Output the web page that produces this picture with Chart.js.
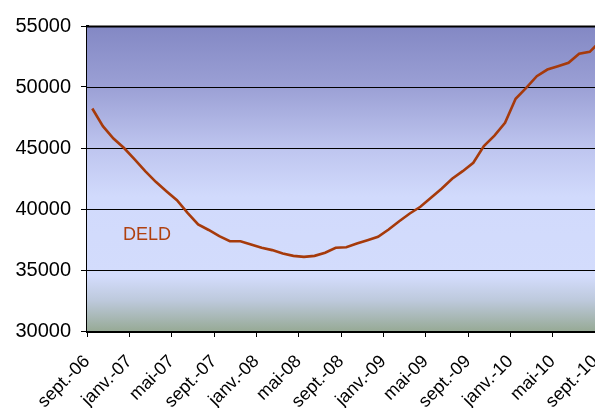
<!DOCTYPE html>
<html>
<head>
<meta charset="utf-8">
<script src="https://cdn.jsdelivr.net/npm/chart.js@4/dist/chart.umd.min.js"></script>
<style>
  html, body { margin: 0; padding: 0; background: #fff; overflow: hidden; }
  #wrap { width: 595px; height: 408px; }
</style>
</head>
<body>
<div id="wrap"><canvas id="chart" width="595" height="408"></canvas></div>
<script>
const months = [
  "sept.-06", "oct.-06", "nov.-06", "déc.-06",
  "janv.-07", "févr.-07", "mars-07", "avr.-07",
  "mai-07", "juin-07", "juil.-07", "août-07",
  "sept.-07", "oct.-07", "nov.-07", "déc.-07",
  "janv.-08", "févr.-08", "mars-08", "avr.-08",
  "mai-08", "juin-08", "juil.-08", "août-08",
  "sept.-08", "oct.-08", "nov.-08", "déc.-08",
  "janv.-09", "févr.-09", "mars-09", "avr.-09",
  "mai-09", "juin-09", "juil.-09", "août-09",
  "sept.-09", "oct.-09", "nov.-09", "déc.-09",
  "janv.-10", "févr.-10", "mars-10", "avr.-10",
  "mai-10", "juin-10", "juil.-10", "août-10",
  "sept.-10"
];
const deld = [
  48240, 46790, 45780, 45000, 44060, 43100, 42230, 41460,
  40720, 39690, 38730, 38280, 37770, 37360, 37360, 37090,
  36820, 36630, 36350, 36160, 36080, 36160, 36410, 36820,
  36870, 37170, 37440, 37720, 38320, 39000, 39630, 40180,
  40920, 41660, 42480, 43100, 43790, 45150, 46020, 47070,
  49030, 49930, 50890, 51430, 51700, 51980, 52720, 52880,
  53730
];
const yTicks = [30000, 35000, 40000, 45000, 50000, 55000];
const labelEvery = 4;
const seriesName = "DELD";

const points = deld.map((v, i) => ({ x: i, y: v }));

const plotBackground = {
  id: "plotBackground",
  beforeDatasetsDraw(chart) {
    const { ctx, chartArea: a } = chart;
    const g = ctx.createLinearGradient(0, a.top, 0, a.bottom);
    g.addColorStop(0, "#8388c4");
    g.addColorStop(0.2, "#9ba0d5");
    g.addColorStop(0.4, "#bec5ef");
    g.addColorStop(0.56, "#d1dafc");
    g.addColorStop(0.82, "#d3dcfc");
    g.addColorStop(0.9, "#bdc9dc");
    g.addColorStop(1, "#97aa96");
    ctx.save();
    ctx.fillStyle = g;
    ctx.fillRect(a.left, a.top, a.right - a.left, a.bottom - a.top);
    // grid lines over the fill
    const y = chart.scales.y;
    ctx.strokeStyle = "#000";
    yTicks.forEach(t => {
      const py = Math.round(y.getPixelForValue(t)) + 0.5;
      ctx.lineWidth = t === 55000 ? 2 : 1;
      ctx.beginPath();
      ctx.moveTo(a.left, py);
      ctx.lineTo(a.right, py);
      ctx.stroke();
    });
    ctx.restore();
  },
  afterDatasetsDraw(chart) {
    const { ctx, scales } = chart;
    ctx.save();
    ctx.fillStyle = "#b0400f";
    ctx.font = "18px 'Liberation Sans', Arial, sans-serif";
    ctx.textBaseline = "alphabetic";
    ctx.fillText(seriesName, scales.x.getPixelForValue(2.9), scales.y.getPixelForValue(37500));
    ctx.restore();
  }
};

new Chart(document.getElementById("chart"), {
  type: "line",
  data: {
    datasets: [{
      label: seriesName,
      data: points,
      borderColor: "#a63a0b",
      borderWidth: 2.6,
      pointRadius: 0,
      tension: 0,
      fill: false,
      clip: false
    }]
  },
  options: {
    responsive: false,
    animation: false,
    devicePixelRatio: 1,
    layout: { padding: { top: 26, right: 0, left: 0, bottom: 0 } },
    plugins: { legend: { display: false }, tooltip: { enabled: false } },
    scales: {
      x: {
        type: "linear",
        min: -0.5,
        max: 47.5,
        afterBuildTicks(axis) {
          const t = [];
          for (let i = 0; i < months.length; i += labelEvery) t.push({ value: i - 0.5 });
          axis.ticks = t;
        },
        afterFit(axis) {
          axis.height = 408 - 331;
          axis.paddingLeft = 0;
          axis.paddingRight = 0;
        },
        border: { display: true, color: "#000", width: 3 },
        grid: { drawOnChartArea: false, drawTicks: true, tickLength: 6, color: "#000", lineWidth: 1 },
        ticks: {
          autoSkip: false,
          minRotation: 45,
          maxRotation: 45,
          padding: 14,
          color: "#000",
          font: { family: "'Liberation Sans', Arial, sans-serif", size: 18 },
          callback: v => months[Math.round(v + 0.5)]
        }
      },
      y: {
        min: 30000,
        max: 55000,
        afterBuildTicks(axis) { axis.ticks = yTicks.map(v => ({ value: v })); },
        afterFit(axis) { axis.width = 87; },
        border: { display: true, color: "#000", width: 3 },
        grid: { drawOnChartArea: false, drawTicks: true, tickLength: 6, color: "#000" },
        ticks: {
          padding: 10,
          color: "#000",
          font: { family: "'Liberation Sans', Arial, sans-serif", size: 20 },
          callback: v => String(v)
        }
      }
    }
  },
  plugins: [plotBackground]
});
</script>
</body>
</html>
